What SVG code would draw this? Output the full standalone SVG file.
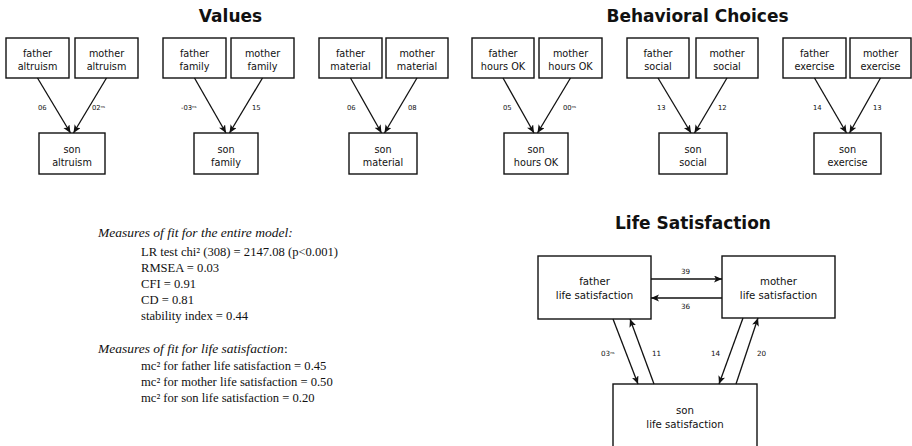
<svg xmlns="http://www.w3.org/2000/svg" width="912" height="446" viewBox="0 0 912 446">
<style>
.title{font-family:"DejaVu Sans",sans-serif;font-weight:bold;font-size:17px;fill:#111;text-anchor:middle}
.box{fill:#fff;stroke:#111;stroke-width:1.4}
.bt{font-family:"DejaVu Sans",sans-serif;font-size:9.7px;fill:#111;text-anchor:middle}
.lt{font-family:"DejaVu Sans",sans-serif;font-size:10.2px;fill:#111;text-anchor:middle}
.el{font-family:"DejaVu Sans",sans-serif;font-size:6.8px;fill:#111}
.el2{font-family:"DejaVu Sans",sans-serif;font-size:7.2px;fill:#111}
.ns{font-size:3.8px}
.edge{stroke:#111;stroke-width:1.3;fill:none;marker-end:url(#ah)}
.it{font-family:"Liberation Serif",serif;font-style:italic;font-size:13.5px;fill:#111}
.rt{font-family:"Liberation Serif",serif;font-size:12.6px;fill:#111}
</style>
<defs>
<marker id="ah" markerUnits="userSpaceOnUse" markerWidth="9" markerHeight="8" refX="8" refY="3.5" orient="auto">
<path d="M0,0 L8,3.5 L0,7 L2,3.5 z" fill="#111"/>
</marker>
</defs>
<text class="title" x="230.5" y="22">Values</text>
<text class="title" x="697.5" y="22">Behavioral Choices</text>
<text class="title" x="693" y="229">Life Satisfaction</text>

<g id="father-altruism"><rect class="box" x="6" y="38" width="63" height="40"/><text class="bt" x="37.5" y="57">father</text><text class="bt" x="37.5" y="70">altruism</text></g>
<g id="mother-altruism"><rect class="box" x="75" y="38" width="63" height="40"/><text class="bt" x="106.5" y="57">mother</text><text class="bt" x="106.5" y="70">altruism</text></g>
<g id="son-altruism"><rect class="box" x="39" y="133" width="66" height="41"/><text class="bt" x="72" y="153">son</text><text class="bt" x="72" y="166">altruism</text></g>

<g id="father-family"><rect class="box" x="163" y="38" width="63" height="40"/><text class="bt" x="194.5" y="57">father</text><text class="bt" x="194.5" y="70">family</text></g>
<g id="mother-family"><rect class="box" x="231" y="38" width="63" height="40"/><text class="bt" x="262.5" y="57">mother</text><text class="bt" x="262.5" y="70">family</text></g>
<g id="son-family"><rect class="box" x="194" y="133" width="64" height="41"/><text class="bt" x="226" y="153">son</text><text class="bt" x="226" y="166">family</text></g>

<g id="father-material"><rect class="box" x="319" y="38" width="63" height="40"/><text class="bt" x="350.5" y="57">father</text><text class="bt" x="350.5" y="70">material</text></g>
<g id="mother-material"><rect class="box" x="386" y="38" width="62" height="40"/><text class="bt" x="417" y="57">mother</text><text class="bt" x="417" y="70">material</text></g>
<g id="son-material"><rect class="box" x="349" y="133" width="68" height="41"/><text class="bt" x="383" y="153">son</text><text class="bt" x="383" y="166">material</text></g>

<g id="father-hours"><rect class="box" x="472" y="38" width="62" height="40"/><text class="bt" x="503" y="57">father</text><text class="bt" x="503" y="70">hours OK</text></g>
<g id="mother-hours"><rect class="box" x="539" y="38" width="63" height="40"/><text class="bt" x="570.5" y="57">mother</text><text class="bt" x="570.5" y="70">hours OK</text></g>
<g id="son-hours"><rect class="box" x="504" y="133" width="64" height="41"/><text class="bt" x="536" y="153">son</text><text class="bt" x="536" y="166">hours OK</text></g>

<g id="father-social"><rect class="box" x="627" y="38" width="62" height="40"/><text class="bt" x="658" y="57">father</text><text class="bt" x="658" y="70">social</text></g>
<g id="mother-social"><rect class="box" x="696" y="38" width="62" height="40"/><text class="bt" x="727" y="57">mother</text><text class="bt" x="727" y="70">social</text></g>
<g id="son-social"><rect class="box" x="659" y="133" width="68" height="41"/><text class="bt" x="693" y="153">son</text><text class="bt" x="693" y="166">social</text></g>

<g id="father-exercise"><rect class="box" x="783" y="38" width="63" height="40"/><text class="bt" x="814.5" y="57">father</text><text class="bt" x="814.5" y="70">exercise</text></g>
<g id="mother-exercise"><rect class="box" x="850" y="38" width="61" height="40"/><text class="bt" x="880.5" y="57">mother</text><text class="bt" x="880.5" y="70">exercise</text></g>
<g id="son-exercise"><rect class="box" x="814" y="133" width="67" height="41"/><text class="bt" x="847.5" y="153">son</text><text class="bt" x="847.5" y="166">exercise</text></g>

<g id="father-life"><rect class="box" x="538" y="256" width="113" height="63"/><text class="lt" x="594.5" y="285">father</text><text class="lt" x="594.5" y="299">life satisfaction</text></g>
<g id="mother-life"><rect class="box" x="722" y="256" width="113" height="62"/><text class="lt" x="778.5" y="285">mother</text><text class="lt" x="778.5" y="299">life satisfaction</text></g>
<g id="son-life"><rect class="box" x="613" y="384" width="144" height="80"/><text class="lt" x="685" y="414">son</text><text class="lt" x="685" y="428">life satisfaction</text></g>

<g id="connectors">
<line class="edge" x1="37.5" y1="78" x2="70.5" y2="133"/>
<line class="edge" x1="106.5" y1="78" x2="73.5" y2="133"/>
<line class="edge" x1="194.5" y1="78" x2="226" y2="133"/>
<line class="edge" x1="262.5" y1="78" x2="229.5" y2="133"/>
<line class="edge" x1="350.5" y1="78" x2="381.5" y2="133"/>
<line class="edge" x1="417" y1="78" x2="384.5" y2="133"/>
<line class="edge" x1="503" y1="78" x2="534" y2="133"/>
<line class="edge" x1="570.5" y1="78" x2="537.5" y2="133"/>
<line class="edge" x1="658" y1="78" x2="691" y2="133"/>
<line class="edge" x1="727" y1="78" x2="694.5" y2="133"/>
<line class="edge" x1="814.5" y1="78" x2="846.5" y2="133"/>
<line class="edge" x1="880.5" y1="78" x2="849.5" y2="133"/>

<line class="edge" x1="651" y1="279" x2="722" y2="279"/>
<line class="edge" x1="722" y1="298" x2="651" y2="298"/>
<line class="edge" x1="613" y1="319" x2="638" y2="384"/>
<line class="edge" x1="654" y1="384" x2="630" y2="319"/>
<line class="edge" x1="743" y1="318" x2="719" y2="384"/>
<line class="edge" x1="736" y1="384" x2="758" y2="318"/>

<text class="el" x="38" y="110">06</text>
<text class="el" x="92" y="110">02<tspan class="ns" dy="-2">ns</tspan></text>
<text class="el" x="181" y="110">-03<tspan class="ns" dy="-2">ns</tspan></text>
<text class="el" x="252" y="110">15</text>
<text class="el" x="347" y="110">06</text>
<text class="el" x="408" y="110">08</text>
<text class="el" x="503" y="110">05</text>
<text class="el" x="563" y="110">00<tspan class="ns" dy="-2">ns</tspan></text>
<text class="el" x="657" y="110">13</text>
<text class="el" x="718" y="110">12</text>
<text class="el" x="813" y="110">14</text>
<text class="el" x="873" y="110">13</text>

<text class="el2" x="681" y="274">39</text>
<text class="el2" x="681" y="309">36</text>
<text class="el2" x="601" y="356">03<tspan class="ns" dy="-2.5">ns</tspan></text>
<text class="el2" x="652" y="356">11</text>
<text class="el2" x="711" y="356">14</text>
<text class="el2" x="757" y="356">20</text>
</g>

<g id="fit-measures">
<text class="it" x="98" y="237">Measures of fit for the entire model:</text>
<text class="rt" x="141" y="256">LR test chi² (308) = 2147.08 (p&lt;0.001)</text>
<text class="rt" x="141" y="272">RMSEA = 0.03</text>
<text class="rt" x="141" y="288">CFI = 0.91</text>
<text class="rt" x="141" y="304">CD = 0.81</text>
<text class="rt" x="141" y="320">stability index = 0.44</text>
<text class="it" x="98" y="353">Measures of fit for life satisfaction<tspan font-style="normal">:</tspan></text>
<text class="rt" x="141" y="370">mc² for father life satisfaction = 0.45</text>
<text class="rt" x="141" y="386">mc² for mother life satisfaction = 0.50</text>
<text class="rt" x="141" y="402">mc² for son life satisfaction = 0.20</text>
</g>
</svg>
